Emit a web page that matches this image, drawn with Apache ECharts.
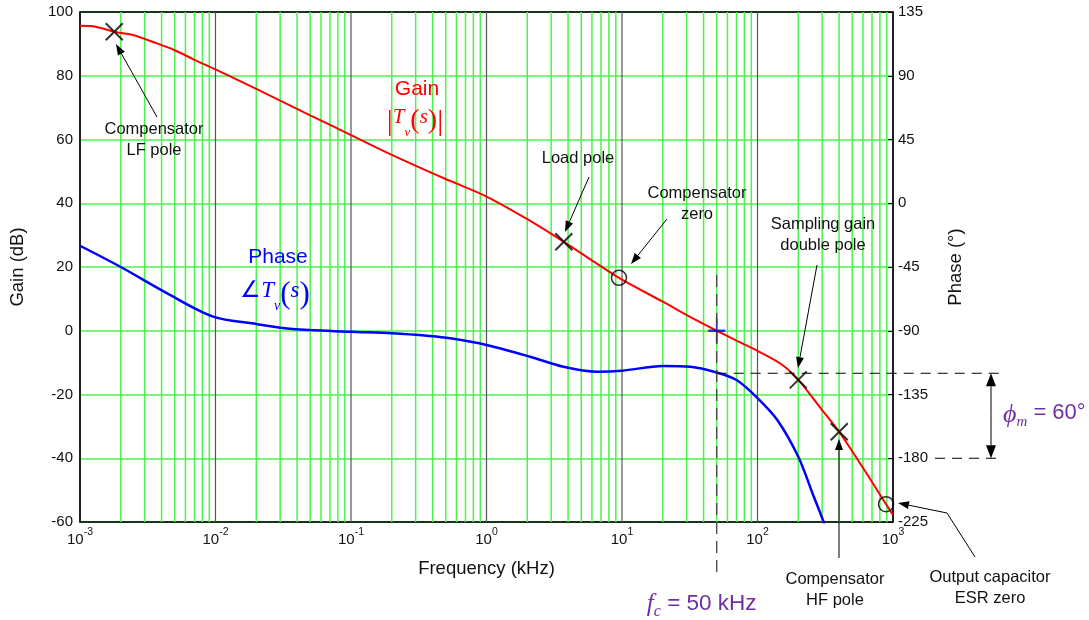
<!DOCTYPE html>
<html>
<head>
<meta charset="utf-8">
<script src="https://cdn.jsdelivr.net/npm/echarts@6/dist/echarts.min.js"></script>
<style>
html, body { margin: 0; padding: 0; background: #fff; }
#box { width: 1089px; height: 620px; }
</style>
</head>
<body>
<div id="box"></div>
<script>
// loop gain |Tv(s)| in dB
var gainFreq = [0.001, 0.0013, 0.0018, 0.0025, 0.0035, 0.005, 0.007, 0.01, 0.02, 0.05, 0.1, 0.2, 0.5, 1, 2, 3.72, 6, 9.5, 20, 35, 50, 70, 100, 150, 200, 300, 400, 600, 888, 1000];
var gainDb = [95.7, 95.4, 93.8, 92.7, 90.5, 88.0, 85.0, 82.0, 75.9, 67.6, 61.4, 55.2, 47.6, 42.1, 35.0, 27.9, 22.1, 16.6, 9.1, 3.4, 0, -3.1, -6.3, -10.5, -15.4, -24.9, -31.7, -43.0, -54.4, -57.8];

// loop phase in degrees
var phaseFreq = [0.001, 0.002, 0.0044, 0.0096, 0.02, 0.037, 0.1, 0.2, 0.38, 0.54, 1, 2.1, 3.7, 6.5, 10, 20, 32, 50, 70, 100, 140, 200, 260, 310, 340];
var phaseDeg = [-30, -45, -63.6, -80, -85.2, -88.8, -90.7, -91.8, -93.7, -95.3, -100, -108.3, -115.4, -118.9, -118.2, -114.9, -115.4, -119.5, -124.8, -137.5, -153, -179, -207, -226, -240];

// pole (x) and zero (o) markers on the gain curve
var poleMarks = [[0.00179, 93.8], [3.72, 27.9], [200, -15.4], [401, -31.7]];
var zeroMarks = [[9.5, 16.6], [888, -54.4]];
var crossMark = [[50, 0]];

// axes
var decadeExp = [-3, -2, -1, 0, 1, 2, 3];
var gainTicks = [-60, -40, -20, 0, 20, 40, 60, 80, 100];
var phaseTicks = [-225, -180, -135, -90, -45, 0, 45, 90, 135];
var fc = 50;
var phaseAtFc = -120;
var phaseLimit = -180;

var FONT = 'Liberation Sans, Arial, sans-serif';
var SERIF = 'Liberation Serif, Times New Roman, serif';
var GREEN = '#4cf24c';
var PURPLE = '#7030a0';

function zip(a, b) {
    var out = [];
    for (var i = 0; i < a.length; i++) out.push([a[i], b[i]]);
    return out;
}

// 2..9 lines inside every decade, dark lines on the decades
var minorLines = [];
var majorLines = [];
for (var d = decadeExp[0]; d < decadeExp[decadeExp.length - 1]; d++) {
    for (var k = 2; k <= 9; k++) minorLines.push([k * Math.pow(10, d), 0]);
    if (d > decadeExp[0]) majorLines.push([Math.pow(10, d), 0]);
}

function gridLine(color, width) {
    return function (params, api) {
        var top = api.coord([api.value(0), gainTicks[gainTicks.length - 1]]);
        var bot = api.coord([api.value(0), gainTicks[0]]);
        return {
            type: 'line',
            silent: true,
            shape: { x1: top[0], y1: top[1], x2: bot[0], y2: bot[1] },
            style: { stroke: color, lineWidth: width }
        };
    };
}

var xMin = Math.pow(10, decadeExp[0]);
var xMax = Math.pow(10, decadeExp[decadeExp.length - 1]);

var myChart = echarts.init(document.getElementById('box'));
var option = {
    animation: false,
    grid: {
        left: 80, right: 196, top: 12, bottom: 98,
        show: true, borderColor: '#000', borderWidth: 1,
        outerBoundsMode: 'none'
    },
    xAxis: [
        {
            type: 'log',
            logBase: 10,
            min: xMin,
            max: xMax,
            splitNumber: decadeExp.length - 1,
            name: 'Frequency (kHz)',
            nameLocation: 'middle',
            nameGap: 37,
            nameTextStyle: { fontFamily: FONT, fontSize: 18.5, color: '#111' },
            axisLine: { onZero: false, lineStyle: { color: '#000', width: 1.5 } },
            axisTick: { show: false },
            splitLine: { show: false },
            axisLabel: {
                margin: 5,
                formatter: function (v) {
                    var e = Math.round(Math.log(v) / Math.LN10);
                    return '{b|10}{s|' + e + '}';
                },
                rich: {
                    b: { fontFamily: FONT, fontSize: 15, color: '#111', lineHeight: 20, verticalAlign: 'bottom' },
                    s: { fontFamily: FONT, fontSize: 10.5, color: '#111', lineHeight: 10, verticalAlign: 'top' }
                }
            }
        },
        {
            type: 'log',
            logBase: 10,
            min: xMin,
            max: xMax,
            position: 'top',
            axisLine: { onZero: false, lineStyle: { color: '#000', width: 1.5 } },
            axisTick: { show: false },
            axisLabel: { show: false },
            splitLine: { show: false }
        }
    ],
    yAxis: [
        {
            type: 'value',
            min: gainTicks[0],
            max: gainTicks[gainTicks.length - 1],
            interval: gainTicks[1] - gainTicks[0],
            name: 'Gain (dB)',
            nameLocation: 'middle',
            nameRotate: 90,
            nameGap: 53,
            nameTextStyle: { fontFamily: FONT, fontSize: 18.5, color: '#111' },
            axisLine: { show: true, onZero: false, lineStyle: { color: '#000', width: 1.5 } },
            axisTick: { show: false },
            axisLabel: { margin: 7, fontFamily: FONT, fontSize: 15, color: '#111' },
            splitLine: { show: true, lineStyle: { color: GREEN, width: 1.5 } }
        },
        {
            type: 'value',
            position: 'right',
            min: phaseTicks[0],
            max: phaseTicks[phaseTicks.length - 1],
            interval: phaseTicks[1] - phaseTicks[0],
            name: 'Phase (\u00b0)',
            nameLocation: 'middle',
            nameRotate: 90,
            nameGap: 53,
            nameTextStyle: { fontFamily: FONT, fontSize: 18.5, color: '#111' },
            axisLine: { show: true, onZero: false, lineStyle: { color: '#000', width: 1.5 } },
            axisTick: { show: true, inside: true, length: 5, lineStyle: { color: '#000' } },
            axisLabel: { margin: 5, fontFamily: FONT, fontSize: 15, color: '#111' },
            splitLine: { show: false }
        }
    ],
    series: [
        {
            name: 'minor grid',
            type: 'custom',
            data: minorLines,
            z: 1,
            silent: true,
            clip: false,
            encode: { x: 0, y: 1 },
            renderItem: gridLine(GREEN, 1.5)
        },
        {
            name: 'decade grid',
            type: 'custom',
            data: majorLines,
            z: 2,
            silent: true,
            clip: false,
            encode: { x: 0, y: 1 },
            renderItem: gridLine('#555', 1.2)
        },
        {
            name: 'Gain',
            type: 'line',
            yAxisIndex: 0,
            data: zip(gainFreq, gainDb),
            showSymbol: false,
            smooth: 0.3,
            z: 3,
            lineStyle: { color: '#ff0000', width: 2 }
        },
        {
            name: 'Phase',
            type: 'line',
            yAxisIndex: 1,
            data: zip(phaseFreq, phaseDeg),
            showSymbol: false,
            smooth: 0.3,
            clip: true,
            z: 3,
            lineStyle: { color: '#0000ff', width: 2.5 }
        },
        {
            name: 'poles',
            type: 'scatter',
            yAxisIndex: 0,
            data: poleMarks,
            symbol: 'path://M0,0L10,10M10,0L0,10',
            symbolSize: 17,
            z: 5,
            itemStyle: { color: 'transparent', borderColor: '#000', borderWidth: 2 }
        },
        {
            name: 'zeros',
            type: 'scatter',
            yAxisIndex: 0,
            data: zeroMarks,
            symbol: 'circle',
            symbolSize: 15,
            z: 5,
            itemStyle: { color: 'transparent', borderColor: '#000', borderWidth: 1.5 }
        },
        {
            name: 'crossover',
            type: 'scatter',
            yAxisIndex: 0,
            data: crossMark,
            symbol: 'path://M5,0L5,10M0,5L10,5',
            symbolSize: [17, 25],
            symbolKeepAspect: false,
            z: 5,
            itemStyle: { color: 'transparent', borderColor: '#0000ff', borderWidth: 2 }
        }
    ]
};
myChart.setOption(option);

// annotations
function arrow(pts, hl, hw) {
    hl = hl || 11; hw = hw || 4;
    var n = pts.length, a = pts[n - 2], b = pts[n - 1];
    var dx = b[0] - a[0], dy = b[1] - a[1], L = Math.sqrt(dx * dx + dy * dy);
    var ux = dx / L, uy = dy / L;
    var base = [b[0] - ux * hl, b[1] - uy * hl];
    var shaft = pts.slice(0, n - 1).concat([base]);
    return [
        { type: 'polyline', shape: { points: shaft }, style: { stroke: '#000', lineWidth: 1, fill: null }, z: 100 },
        { type: 'polygon', shape: { points: [b, [base[0] - uy * hw, base[1] + ux * hw], [base[0] + uy * hw, base[1] - ux * hw]] }, style: { fill: '#000' }, z: 100 }
    ];
}
function label(x, y, txt) {
    return {
        type: 'text', x: x, y: y, z: 100,
        style: { text: txt, fontFamily: FONT, fontSize: 16.5, fill: '#111', align: 'center', verticalAlign: 'middle', lineHeight: 21 }
    };
}

var xc = myChart.convertToPixel({ xAxisIndex: 0 }, fc);
var yPm = myChart.convertToPixel({ yAxisIndex: 1 }, phaseAtFc);
var y180 = myChart.convertToPixel({ yAxisIndex: 1 }, phaseLimit);
var xArr = 991;

var g = [];
g.push(label(154, 140, 'Compensator\nLF pole'));
g.push(label(578, 158, 'Load pole'));
g.push(label(697, 204, 'Compensator\nzero'));
g.push(label(823, 235, 'Sampling gain\ndouble pole'));
g.push(label(835, 590, 'Compensator\nHF pole'));
g.push(label(990, 588, 'Output capacitor\nESR zero'));
g = g.concat(arrow([[157, 117], [116, 44]]));
g = g.concat(arrow([[589, 177], [565, 232]]));
g = g.concat(arrow([[667, 219], [631, 264]]));
g = g.concat(arrow([[817, 265], [798, 368]]));
g = g.concat(arrow([[839, 558], [839, 439]]));
g = g.concat(arrow([[975, 557], [947, 513], [898, 503]]));

// fc dashed marker
g.push({ type: 'line', z: 90, shape: { x1: xc, y1: 275, x2: xc, y2: 575 },
    style: { stroke: '#444', lineWidth: 1.3, lineDash: [12, 7] } });
g.push({
    type: 'text', x: xc - 15, y: 606, z: 100,
    style: {
        text: '{f|f}{c|c}{t| = 50 kHz}', align: 'center', verticalAlign: 'middle',
        rich: {
            f: { fontFamily: SERIF, fontStyle: 'italic', fontSize: 25, fill: PURPLE, lineHeight: 28, verticalAlign: 'top' },
            c: { fontFamily: SERIF, fontStyle: 'italic', fontSize: 16, fill: PURPLE, lineHeight: 20, verticalAlign: 'bottom' },
            t: { fontFamily: FONT, fontSize: 22.5, fill: PURPLE, lineHeight: 28, verticalAlign: 'top' }
        }
    }
});

// phase margin
g.push({ type: 'line', z: 90, shape: { x1: xc, y1: yPm, x2: 1003, y2: yPm },
    style: { stroke: '#000', lineWidth: 1, lineDash: [10, 7] } });
g.push({ type: 'line', z: 90, shape: { x1: 935, y1: y180, x2: 1003, y2: y180 },
    style: { stroke: '#000', lineWidth: 1, lineDash: [10, 7] } });
g = g.concat(arrow([[xArr, (yPm + y180) / 2], [xArr, yPm]], 13, 5));
g = g.concat(arrow([[xArr, (yPm + y180) / 2], [xArr, y180]], 13, 5));
g.push({
    type: 'text', x: 1003, y: (yPm + y180) / 2, z: 100,
    style: {
        text: '{p|\u03d5}{m|m}{t| = 60\u00b0}', align: 'left', verticalAlign: 'middle',
        rich: {
            p: { fontFamily: SERIF, fontStyle: 'italic', fontSize: 26, fill: PURPLE, lineHeight: 28, verticalAlign: 'top' },
            m: { fontFamily: SERIF, fontStyle: 'italic', fontSize: 15, fill: PURPLE, lineHeight: 19, verticalAlign: 'bottom' },
            t: { fontFamily: FONT, fontSize: 22, fill: PURPLE, lineHeight: 28, verticalAlign: 'top' }
        }
    }
});

// curve names
g.push({ type: 'text', x: 417, y: 89, z: 100,
    style: { text: 'Gain', fontFamily: FONT, fontSize: 21, fill: '#ff0000', align: 'center', verticalAlign: 'middle' } });
g.push({
    type: 'text', x: 415, y: 123, z: 100,
    style: {
        text: '{bar||}{T|T}{v|v}{p|(}{s|s}{p|)}{bar||}', align: 'center', verticalAlign: 'middle',
        rich: {
            bar: { fontFamily: SERIF, fontSize: 30, fill: '#ff0000', lineHeight: 32, verticalAlign: 'top' },
            T: { fontFamily: SERIF, fontStyle: 'italic', fontSize: 21, fill: '#ff0000', lineHeight: 30, verticalAlign: 'top' },
            v: { fontFamily: SERIF, fontStyle: 'italic', fontSize: 13, fill: '#ff0000', lineHeight: 24, verticalAlign: 'bottom' },
            p: { fontFamily: SERIF, fontSize: 28, fill: '#ff0000', lineHeight: 32, verticalAlign: 'top' },
            s: { fontFamily: SERIF, fontStyle: 'italic', fontSize: 21, fill: '#ff0000', lineHeight: 30, verticalAlign: 'top' }
        }
    }
});
g.push({ type: 'text', x: 278, y: 257, z: 100,
    style: { text: 'Phase', fontFamily: FONT, fontSize: 21, fill: '#0000ff', align: 'center', verticalAlign: 'middle' } });
g.push({
    type: 'text', x: 275, y: 296, z: 100,
    style: {
        text: '{a|\u2220}{T|T}{v|v}{p|(}{s|s}{p|)}', align: 'center', verticalAlign: 'middle',
        rich: {
            a: { fontFamily: SERIF, fontSize: 23, fill: '#0000ff', lineHeight: 32, verticalAlign: 'top' },
            T: { fontFamily: SERIF, fontStyle: 'italic', fontSize: 23, fill: '#0000ff', lineHeight: 32, verticalAlign: 'top' },
            v: { fontFamily: SERIF, fontStyle: 'italic', fontSize: 14, fill: '#0000ff', lineHeight: 26, verticalAlign: 'bottom' },
            p: { fontFamily: SERIF, fontSize: 31, fill: '#0000ff', lineHeight: 34, verticalAlign: 'top' },
            s: { fontFamily: SERIF, fontStyle: 'italic', fontSize: 23, fill: '#0000ff', lineHeight: 32, verticalAlign: 'top' }
        }
    }
});

myChart.setOption({ graphic: { elements: g } });
</script>
</body>
</html>
